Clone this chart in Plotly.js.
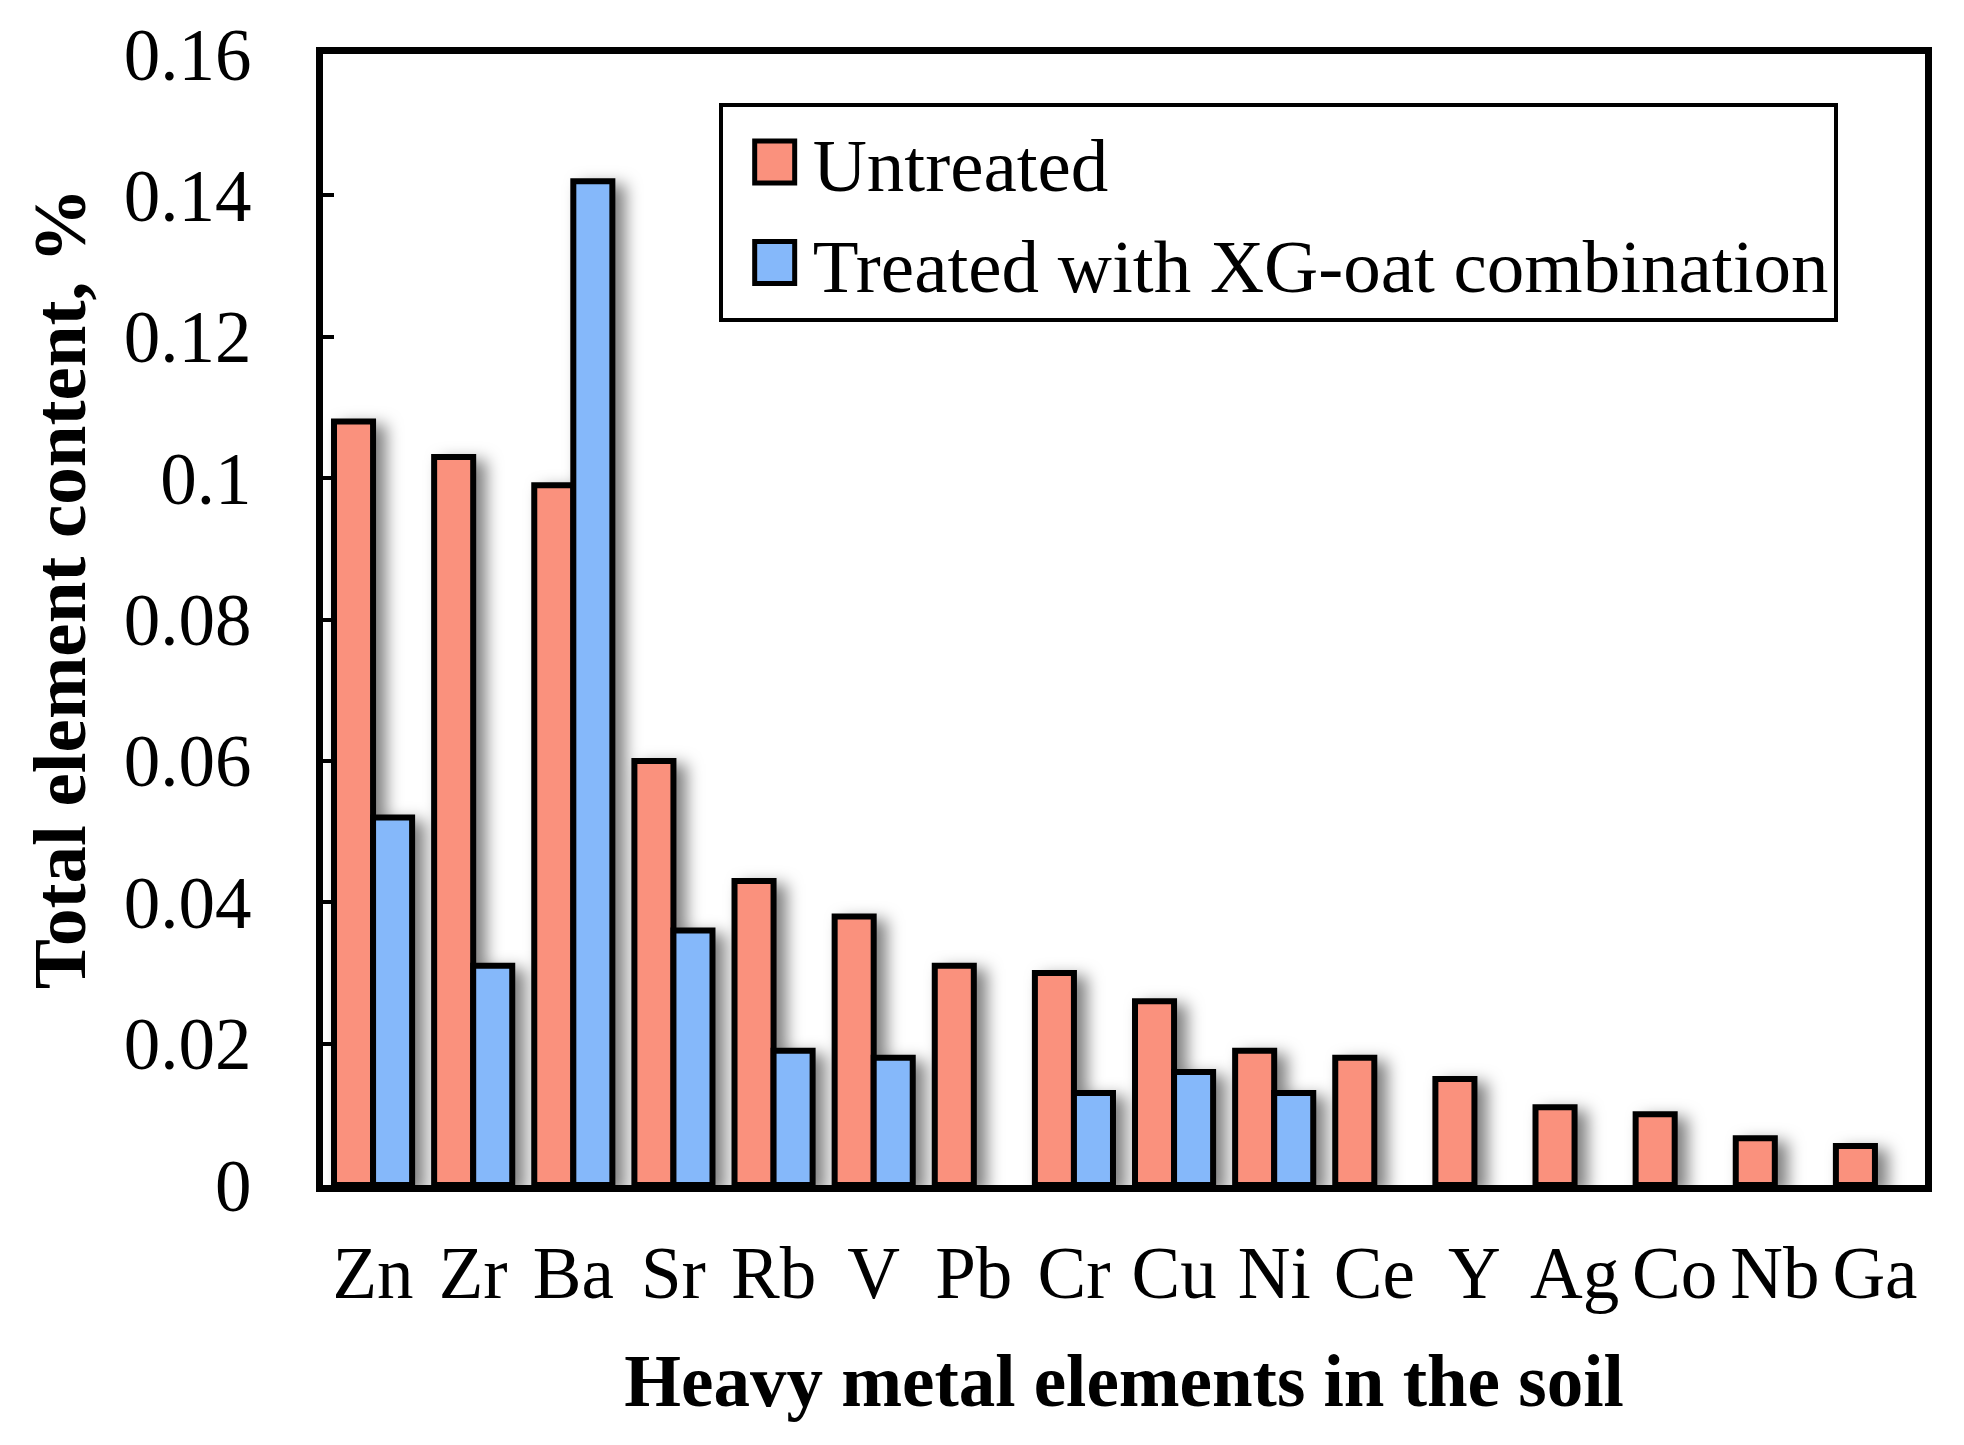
<!DOCTYPE html>
<html>
<head>
<meta charset="utf-8">
<script src="https://cdn.plot.ly/plotly-3.0.1.min.js"></script>
<style>
  html, body { margin: 0; padding: 0; background: #fff; }
  #chart { width: 1964px; height: 1445px; }
  .barlayer { filter: drop-shadow(10px 6px 8px rgba(0,0,0,0.5)); }
</style>
</head>
<body>
<div id="chart"></div>
<script>
const elements = ["Zn","Zr","Ba","Sr","Rb","V","Pb","Cr","Cu","Ni","Ce","Y","Ag","Co","Nb","Ga"];
const untreated = [0.108,0.103,0.099,0.060,0.043,0.038,0.031,0.030,0.026,0.019,0.018,0.015,0.011,0.010,0.0066,0.0055];
const treated   = [0.052,0.031,0.142,0.036,0.019,0.018,null,0.013,0.016,0.013,null,null,null,null,null,null];
const seriesNames = ["Untreated","Treated with XG-oat combination"];
const yTickVals = [0,0.02,0.04,0.06,0.08,0.1,0.12,0.14,0.16];
const yTickText = ["0","0.02","0.04","0.06","0.08","0.1","0.12","0.14","0.16"];
const xTitle = "Heavy metal elements in the soil";
const yTitle = "Total element content, %";

const FONT = "Liberation Serif, Times New Roman, serif";

const traces = [
  {type:"bar", name:seriesNames[0], x:elements, y:untreated,
   marker:{color:"#FA917D", line:{color:"#000", width:6}}},
  {type:"bar", name:seriesNames[1], x:elements, y:treated,
   marker:{color:"#85B8FA", line:{color:"#000", width:6}}}
];

const layout = {
  width:1964, height:1445,
  paper_bgcolor:"#fff", plot_bgcolor:"#fff",
  margin:{l:323, r:39, t:54, b:260},
  barmode:"group", bargap:0.22, bargroupgap:0,
  font:{family:FONT, size:73, color:"#000"},
  showlegend:true,
  legend:{x:0.247, y:0.957, xanchor:"left", yanchor:"top",
    bgcolor:"#fff", bordercolor:"#000", borderwidth:4,
    font:{family:FONT, size:75, color:"#000"}, itemwidth:80},
  xaxis:{
    type:"category", showline:true, linecolor:"#000", linewidth:7, mirror:true,
    ticks:"", showgrid:false, zeroline:false,
    tickfont:{family:FONT, size:73}, ticklabelstandoff:18,
    title:{text:xTitle, font:{family:FONT, size:73, weight:"bold"}, standoff:45}
  },
  yaxis:{
    range:[0,0.16], showline:true, linecolor:"#000", linewidth:7, mirror:true,
    ticks:"inside", ticklen:11, tickwidth:4, tickcolor:"#000",
    tickvals:yTickVals, ticktext:yTickText, showgrid:false, zeroline:false,
    tickfont:{family:FONT, size:73}, ticklabelstandoff:50
  },
  annotations:[{
    text:yTitle, textangle:-90, showarrow:false,
    xref:"paper", yref:"paper", x:-0.164, y:0.527, xanchor:"center", yanchor:"middle",
    font:{family:FONT, size:75, weight:"bold", color:"#000"}
  }]
};

Plotly.newPlot("chart", traces, layout, {staticPlot:true, displayModeBar:false}).then(() => {
  document.querySelectorAll(".legend .legendpoints path").forEach(p => {
    p.setAttribute("d", "M27,21H-13V-21H27Z");
    p.style.strokeWidth = "5px";
  });
});
</script>
</body>
</html>
